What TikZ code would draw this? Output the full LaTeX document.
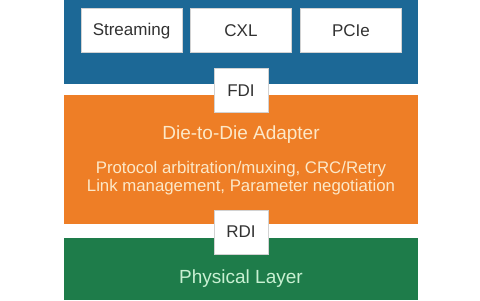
\documentclass[tikz,border=0pt]{standalone}
\usepackage{fontspec}
\setmainfont{Liberation Sans}
\definecolor{ucieblue}{RGB}{28,104,150}
\definecolor{ucieorange}{RGB}{238,126,38}
\definecolor{uciegreen}{RGB}{30,124,74}
\definecolor{adaptertext}{RGB}{252,232,200}
\definecolor{phytext}{RGB}{200,240,210}
\definecolor{boxtext}{RGB}{50,50,50}
% sizes in pt: one pixel of the 480x300 picture is 0.5pt
\tikzset{
 band/.style={inner sep=0pt,minimum width=177pt,anchor=south},
 proto/.style={fill=white,draw=gray!35,line width=0.5pt,inner sep=0pt,minimum width=50.5pt,minimum height=22pt,text=boxtext,font=\fontsize{8.5}{10}\selectfont},
 iface/.style={proto,minimum width=27pt,minimum height=22pt}
}

\begin{document}
\begin{tikzpicture}[x=0.5pt,y=0.5pt]
 \useasboundingbox (0,0) rectangle (480,300);
 \node[band,fill=ucieblue,minimum height=42pt] (top) at (241,216) {};
 \node[band,fill=ucieorange,minimum height=64.5pt] (adapter) at (241,76) {};
 \node[band,fill=uciegreen,minimum height=31pt] (phy) at (241,0) {};
 \foreach \n/\x/\t in {str/131.5/Streaming,cxl/241/CXL,pcie/351/PCIe} \node[proto] (\n) at (\x,269) {\t};
 \node[iface] (fdi) at (241,209) {FDI};
 \node[iface] (rdi) at (241,68) {RDI};
 \node[text=adaptertext,font=\fontsize{9.5}{11}\selectfont] (d2d) at (241,165.5) {Die-to-Die Adapter};
 \node[text=adaptertext,font=\fontsize{8.4}{9}\selectfont,align=center] (func) at (241,121.5) {Protocol arbitration/muxing, CRC/Retry\\Link management, Parameter negotiation};
 \node[text=phytext,font=\fontsize{9.5}{11}\selectfont] (phylabel) at (241,21) {Physical Layer};
\end{tikzpicture}
\end{document}
